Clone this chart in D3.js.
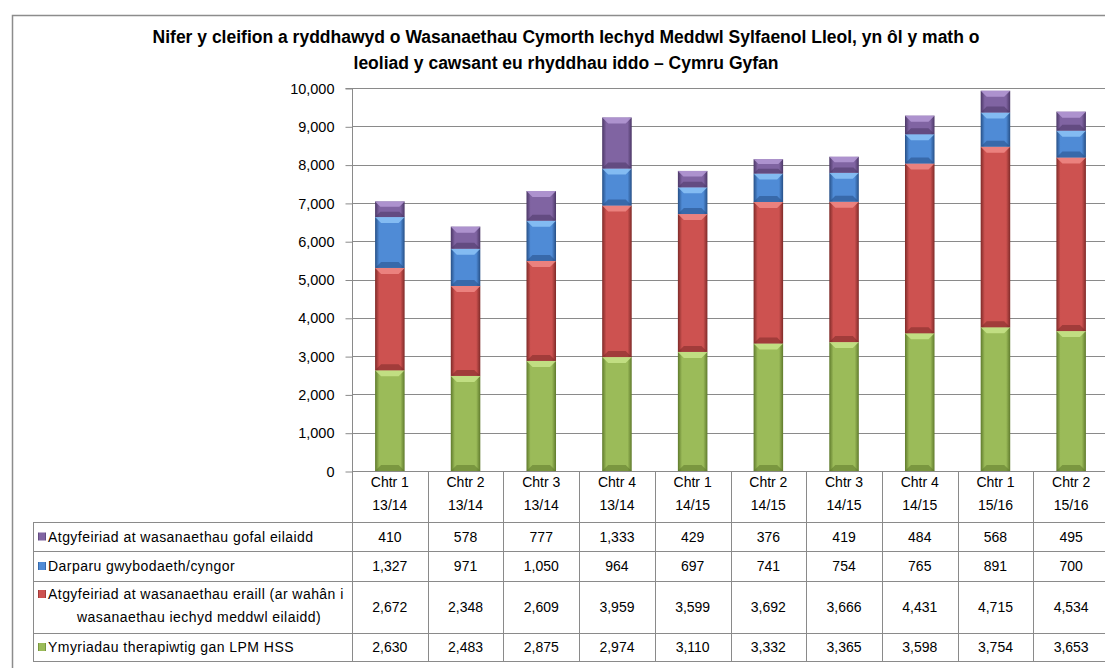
<!DOCTYPE html>
<html>
<head>
<meta charset="utf-8">
<script src="https://cdn.jsdelivr.net/npm/d3@7"></script>
<style>
  body { margin: 0; background: #fff; }
  svg text { font-family: "Liberation Sans", Arial, sans-serif; fill: #000; }
</style>
</head>
<body>
<div id="chart"></div>
<script>
const categories = ["Chtr 1|13/14", "Chtr 2|13/14", "Chtr 3|13/14", "Chtr 4|13/14", "Chtr 1|14/15",
                    "Chtr 2|14/15", "Chtr 3|14/15", "Chtr 4|14/15", "Chtr 1|15/16", "Chtr 2|15/16"];
const therapyValues = [2630, 2483, 2875, 2974, 3110, 3332, 3365, 3598, 3754, 3653];
const otherServicesValues = [2672, 2348, 2609, 3959, 3599, 3692, 3666, 4431, 4715, 4534];
const adviceValues = [1327, 971, 1050, 964, 697, 741, 754, 765, 891, 700];
const secondaryValues = [410, 578, 777, 1333, 429, 376, 419, 484, 568, 495];
const yTicks = [0, 1000, 2000, 3000, 4000, 5000, 6000, 7000, 8000, 9000, 10000];

// stacking order bottom -> top
const series = [
    { key: "green", label: ["Ymyriadau therapiwtig gan LPM HSS"], values: therapyValues,
      base: "#9bbb59", dark: "#5f7a2c", light: "#c8e48a" },
    { key: "red", label: ["Atgyfeiriad at wasanaethau eraill (ar wahân i", "wasanaethau iechyd meddwl eilaidd)"], values: otherServicesValues,
      base: "#cd5250", dark: "#7e2a28", light: "#f08a86" },
    { key: "blue", label: ["Darparu gwybodaeth/cyngor"], values: adviceValues,
      base: "#4f8bd6", dark: "#264f86", light: "#8cc3f7" },
    { key: "purple", label: ["Atgyfeiriad at wasanaethau gofal eilaidd"], values: secondaryValues,
      base: "#8064a2", dark: "#4b3766", light: "#b59ad6" }
];

const width = 1105, height = 668;
const svg = d3.select("#chart").append("svg")
    .attr("width", width).attr("height", height);

const defs = svg.append("defs");
series.forEach(s => {
    const g = defs.append("linearGradient").attr("id", "grad-" + s.key)
        .attr("x1", "0").attr("x2", "1").attr("y1", "0").attr("y2", "0");
    g.append("stop").attr("offset", "0%").attr("stop-color", s.dark);
    g.append("stop").attr("offset", "14%").attr("stop-color", s.base);
    g.append("stop").attr("offset", "86%").attr("stop-color", s.base);
    g.append("stop").attr("offset", "100%").attr("stop-color", s.dark);
});

// outer frame
svg.append("rect").attr("x", 12.5).attr("y", 15.5).attr("width", 1200).attr("height", 700)
    .attr("fill", "none").attr("stroke", "#8c8c8c").attr("stroke-width", 1.5);

// title
const title = svg.append("text").attr("text-anchor", "middle")
    .style("font-family", "'Liberation Sans Narrow', 'Liberation Sans', sans-serif")
    .style("font-weight", "bold").style("font-size", "17.5px");
title.append("tspan").attr("x", 566).attr("y", 43)
    .text("Nifer y cleifion a ryddhawyd o Wasanaethau Cymorth Iechyd Meddwl Sylfaenol Lleol, yn ôl y math o");
title.append("tspan").attr("x", 566).attr("y", 69)
    .text("leoliad y cawsant eu rhyddhau iddo – Cymru Gyfan");

const x = d3.scaleBand().domain(categories).range([352, 1109]).paddingInner(0).paddingOuter(0);
const y = d3.scaleLinear().domain([0, 10000]).range([471, 88]);

// gridlines
svg.append("g").selectAll("line").data(yTicks.filter(d => d > 0)).join("line")
    .attr("x1", 352).attr("x2", 1109)
    .attr("y1", d => Math.round(y(d)) + 0.5).attr("y2", d => Math.round(y(d)) + 0.5)
    .attr("stroke", "#8a8a8a").attr("stroke-width", 1);

// y axis
const yAxis = svg.append("g").attr("transform", "translate(352.5,0.5)")
    .call(d3.axisLeft(y).tickValues(yTicks).tickSize(7).tickPadding(11).tickFormat(d3.format(",")));
yAxis.select(".domain").attr("stroke", "#8a8a8a").attr("d", "M-7," + Math.round(y(10000)) + "H0V" + Math.round(y(0)));
yAxis.selectAll(".tick line").attr("stroke", "#8a8a8a");
yAxis.selectAll(".tick text").style("font-size", "14.5px").attr("fill", "#000");

// stacked bars
const table = categories.map((c, i) => {
    const row = { cat: c };
    series.forEach(s => row[s.key] = s.values[i]);
    return row;
});
const stack = d3.stack().keys(series.map(s => s.key))(table);
const barW = x.bandwidth() * 0.39;

stack.forEach((layer, li) => {
    const s = series[li];
    const g = svg.append("g");
    layer.forEach((d, i) => {
        const cx = x(categories[i]) + x.bandwidth() / 2;
        const x0 = cx - barW / 2, x1 = cx + barW / 2;
        const yt = y(d[1]), yb = y(d[0]);
        const h = yb - yt;
        const bev = Math.min(6, h / 3);
        g.append("rect").attr("x", x0).attr("y", yt).attr("width", barW).attr("height", h)
            .attr("fill", "url(#grad-" + s.key + ")");
        g.append("polygon")
            .attr("points", [[x0, yt], [x1, yt], [x1 - bev, yt + bev], [x0 + bev, yt + bev]].join(" "))
            .attr("fill", s.light).attr("opacity", 0.85);
        g.append("polygon")
            .attr("points", [[x0, yb], [x1, yb], [x1 - bev, yb - bev], [x0 + bev, yb - bev]].join(" "))
            .attr("fill", s.dark).attr("opacity", 0.55);
    });
});

// data table
const rowBounds = [[522, 551], [551, 581], [581, 633], [633, 661]];
const tableRows = series.slice().reverse();
const tg = svg.append("g");
const gridColor = "#8a8a8a";

const edges = categories.map(c => x(c)).concat([x.range()[1]]);
edges.forEach(e => {
    tg.append("line").attr("x1", Math.round(e) + 0.5).attr("x2", Math.round(e) + 0.5)
        .attr("y1", 471).attr("y2", 661).attr("stroke", gridColor);
});
tg.append("line").attr("x1", 33.5).attr("x2", 33.5).attr("y1", 522).attr("y2", 661).attr("stroke", gridColor);
[522, 551, 581, 633, 661].forEach(yy => {
    tg.append("line").attr("x1", 33).attr("x2", 1109).attr("y1", yy + 0.5).attr("y2", yy + 0.5).attr("stroke", gridColor);
});
tg.append("line").attr("x1", 352).attr("x2", 1109).attr("y1", 471.5).attr("y2", 471.5).attr("stroke", gridColor);

// header labels
categories.forEach(c => {
    const cx = x(c) + x.bandwidth() / 2;
    const parts = c.split("|");
    const t = tg.append("text").attr("text-anchor", "middle").style("font-size", "14px");
    t.append("tspan").attr("x", cx).attr("y", 487).text(parts[0]);
    t.append("tspan").attr("x", cx).attr("y", 510).text(parts[1]);
});

// rows
const fmt = d3.format(",");
tableRows.forEach((s, ri) => {
    const [top, bot] = rowBounds[ri];
    const mid = (top + bot) / 2;
    tg.append("rect").attr("x", 38).attr("y", (s.label.length > 1 ? top + 13 : mid) - 4)
        .attr("width", 8).attr("height", 8).attr("fill", "url(#grad-" + s.key + ")");
    const lbl = { "font-size": "14px", "letter-spacing": "0.45px" };
    if (s.label.length === 1) {
        tg.append("text").attr("x", 48).attr("y", mid + 5).style("font-size", lbl["font-size"])
            .style("letter-spacing", lbl["letter-spacing"]).text(s.label[0]);
    } else {
        tg.append("text").attr("x", 48).attr("y", top + 18).style("font-size", lbl["font-size"])
            .style("letter-spacing", lbl["letter-spacing"]).text(s.label[0]);
        tg.append("text").attr("x", 199).attr("y", top + 41).attr("text-anchor", "middle")
            .style("font-size", lbl["font-size"]).style("letter-spacing", lbl["letter-spacing"]).text(s.label[1]);
    }
    s.values.forEach((v, i) => {
        tg.append("text").attr("x", x(categories[i]) + x.bandwidth() / 2).attr("y", mid + 5)
            .attr("text-anchor", "middle").style("font-size", "14px").text(fmt(v));
    });
});
</script>
</body>
</html>
